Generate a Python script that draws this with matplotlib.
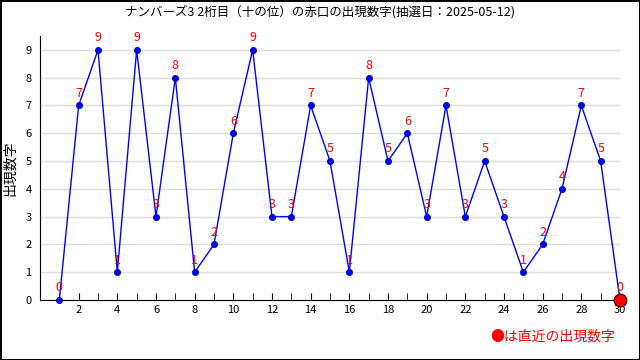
import numpy as np
import matplotlib.pyplot as plt

plt.rcParams["font.family"] = ["Noto Sans CJK JP", "DejaVu Sans"]

draws = list(range(1, 31))
digits = [0, 7, 9, 1, 9, 3, 8, 1, 2, 6, 9, 3, 3, 7, 5, 1, 8, 5, 6, 3, 7, 3, 5, 3, 1, 2, 4, 7, 5, 0]
title = "ナンバーズ3 2桁目（十の位）の赤口の出現数字(抽選日：2025-05-12)"

fig = plt.figure(figsize=(6.4, 3.6), dpi=100)
fig.patch.set_edgecolor("black")
fig.patch.set_linewidth(2)
ax = fig.add_axes([40 / 640, 60 / 360, 580 / 640, 264 / 360])

ax.plot(draws, digits, color="blue", lw=1, marker="o", ms=4.5,
        mfc="blue", mec="#000080", mew=0.5, zorder=3, clip_on=False)
ax.plot(draws[-1], digits[-1], "o", ms=9, color="red", mec="#600000", mew=1,
        zorder=4, clip_on=False)
for x, y in zip(draws, digits):
    ax.annotate(str(y), (x, y), xytext=(0, 4), textcoords="offset points",
                ha="center", va="bottom", color="red", fontsize=9, zorder=5)

ax.set_xlim(0, 30)
ax.set_ylim(0, 9.5)
ax.set_yticks(range(10))
ax.set_xticks(range(2, 31, 2))
ax.set_xticks(range(1, 31), minor=True)
ax.tick_params(axis="x", which="both", direction="in", length=5, labelsize=8)
ax.tick_params(axis="y", length=0, labelsize=8, pad=6)
ax.grid(axis="y", color="#dddddd", lw=1)
ax.set_axisbelow(True)
for s in ["top", "right"]:
    ax.spines[s].set_visible(False)
ax.set_ylabel("出現数字", fontsize=10, labelpad=6)
fig.text(0.5, 1 - 12 / 360, title, ha="center", va="center", fontsize=9)
fig.text(615 / 640, 1 - 337 / 360, "●は直近の出現数字", ha="right", va="center",
         color="red", fontsize=10)

fig.savefig("out.png")
